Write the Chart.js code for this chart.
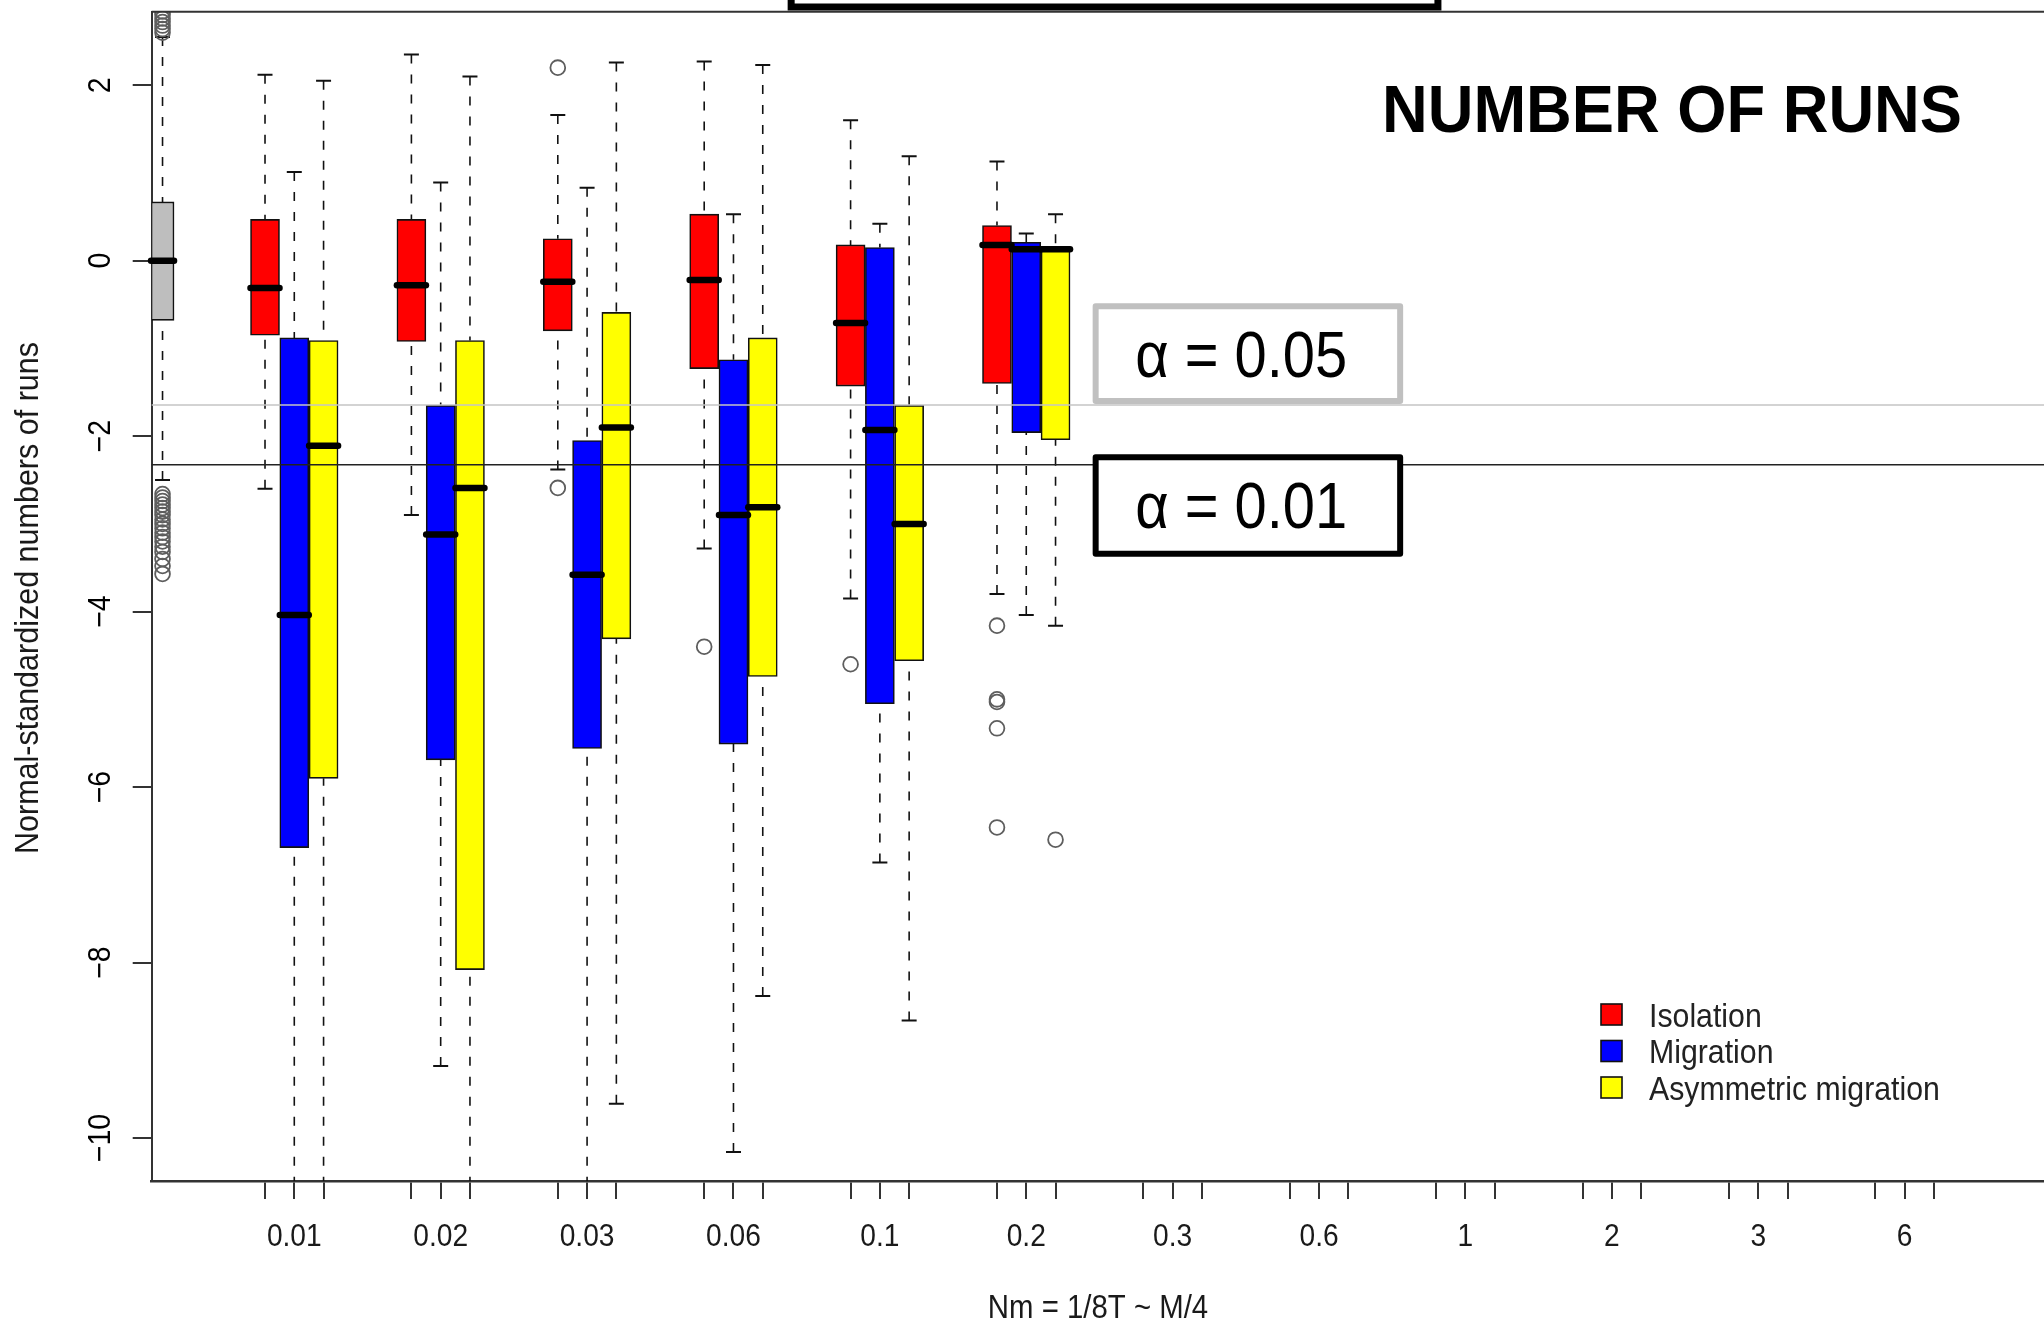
<!DOCTYPE html>
<html>
<head>
<meta charset="utf-8">
<script src="https://cdn.jsdelivr.net/npm/chart.js@4.4.1/dist/chart.umd.min.js"></script>
<style>
  html, body { margin: 0; padding: 0; background: #fff; }
  #wrap { width: 2044px; height: 1323px; }
</style>
</head>
<body>
<div id="wrap"><canvas id="myChart" width="2044" height="1323"></canvas></div>
<script>
// x groups (Nm values) and the three models
var groupLabels = ['0.01', '0.02', '0.03', '0.06', '0.1', '0.2', '0.3', '0.6', '1', '2', '3', '6'];
var seriesNames = ['Isolation', 'Migration', 'Asymmetric migration'];
var seriesColors = ['#ff0000', '#0000ff', '#ffff00'];
var yTicks = [-10, -8, -6, -4, -2, 0, 2];

// box statistics (only the first six groups have data)
var isoLo  = [-2.60, -2.90, -2.38, -3.28, -3.85, -3.80];
var isoQ1  = [-0.85, -0.92, -0.80, -1.23, -1.43, -1.40];
var isoMed = [-0.31, -0.28, -0.24, -0.22, -0.71, 0.18];
var isoQ3  = [0.47, 0.47, 0.25, 0.53, 0.18, 0.40];
var isoHi  = [2.12, 2.35, 1.66, 2.27, 1.60, 1.13];
var isoOut = [[], [], [2.20, -2.59], [-4.40], [-4.60], [-4.16, -5.00, -5.03, -5.33, -6.46]];

var migLo  = [-11.0, -9.18, -11.0, -10.16, -6.86, -4.04];
var migQ1  = [-6.69, -5.69, -5.56, -5.51, -5.05, -1.96];
var migMed = [-4.04, -3.12, -3.58, -2.90, -1.93, 0.13];
var migQ3  = [-0.88, -1.65, -2.05, -1.13, 0.15, 0.21];
var migHi  = [1.01, 0.89, 0.83, 0.53, 0.42, 0.31];
var migOut = [[], [], [], [], [], []];

var asyLo  = [-11.0, -11.0, -9.61, -8.38, -8.66, -4.16];
var asyQ1  = [-5.90, -8.08, -4.31, -4.74, -4.56, -2.04];
var asyMed = [-2.11, -2.59, -1.90, -2.81, -3.00, 0.13];
var asyQ3  = [-0.91, -0.91, -0.59, -0.88, -1.65, 0.13];
var asyHi  = [2.05, 2.10, 2.26, 2.23, 1.19, 0.53];
var asyOut = [[], [], [], [], [], [-6.60]];

// null distribution (grey box at the far left)
var refStats = { lo: -2.50, q1: -0.68, med: 0, q3: 0.67, hi: 2.55 };
var refOut = [2.60, 2.64, 2.68, 2.72, 2.76, 2.80, 2.84,
              -2.66, -2.70, -2.74, -2.78, -2.82, -2.86, -2.90, -2.95, -3.00, -3.05,
              -3.10, -3.15, -3.20, -3.26, -3.32, -3.40, -3.48, -3.57];

// critical values
var alphaLabels = ['\u03b1 = 0.05', '\u03b1 = 0.01'];
var critValues = [-1.645, -2.326];

var series = [
  { lo: isoLo, q1: isoQ1, med: isoMed, q3: isoQ3, hi: isoHi, out: isoOut },
  { lo: migLo, q1: migQ1, med: migMed, q3: migQ3, hi: migHi, out: migOut },
  { lo: asyLo, q1: asyQ1, med: asyMed, q3: asyQ3, hi: asyHi, out: asyOut }
];

var refPos = -3.5;
function pos(g, s) { return 5 * g + s; }

var FONT = "'Liberation Sans', Arial, sans-serif";
var BOX_W = 29, REF_W = 23, CAP_W = 15;

function drawText(ctx, str, x, y, o) {
  ctx.save();
  ctx.font = (o.bold ? 'bold ' : '') + o.size + 'px ' + FONT;
  ctx.fillStyle = o.color || '#1a1a1a';
  ctx.textAlign = o.align || 'center';
  ctx.textBaseline = o.base || 'alphabetic';
  ctx.translate(x, y);
  if (o.rot) ctx.rotate(o.rot);
  var sq = o.sq || 1;
  if (o.w) sq = o.w / ctx.measureText(str).width;
  ctx.scale(sq, 1);
  ctx.fillText(str, 0, 0);
  ctx.restore();
}

function whisker(ctx, xs, ys, at, lo, q1, q3, hi) {
  var xp = xs.getPixelForValue(at);
  ctx.save();
  ctx.strokeStyle = '#111';
  ctx.lineWidth = 1.6;
  ctx.setLineDash([9, 11]);
  ctx.beginPath();
  ctx.moveTo(xp, ys.getPixelForValue(hi));
  ctx.lineTo(xp, ys.getPixelForValue(q3));
  ctx.moveTo(xp, ys.getPixelForValue(lo));
  ctx.lineTo(xp, ys.getPixelForValue(q1));
  ctx.stroke();
  ctx.setLineDash([]);
  ctx.lineWidth = 2;
  ctx.beginPath();
  [hi, lo].forEach(function (v) {
    var yp = ys.getPixelForValue(v);
    ctx.moveTo(xp - CAP_W / 2, yp);
    ctx.lineTo(xp + CAP_W / 2, yp);
  });
  ctx.stroke();
  ctx.restore();
}

function median(ctx, xs, ys, at, v, w) {
  var xp = xs.getPixelForValue(at), yp = ys.getPixelForValue(v);
  ctx.save();
  ctx.strokeStyle = '#000';
  ctx.lineWidth = 6.5;
  ctx.lineCap = 'round';
  ctx.beginPath();
  ctx.moveTo(xp - w / 2, yp);
  ctx.lineTo(xp + w / 2, yp);
  ctx.stroke();
  ctx.restore();
}

var boxPlugin = {
  id: 'boxParts',
  beforeDatasetsDraw: function (chart) {
    var ctx = chart.ctx, xs = chart.scales.x, ys = chart.scales.y, a = chart.chartArea;
    ctx.save();
    ctx.beginPath();
    ctx.rect(a.left, a.top, a.right - a.left, a.bottom - a.top);
    ctx.clip();
    whisker(ctx, xs, ys, refPos, refStats.lo, refStats.q1, refStats.q3, refStats.hi);
    series.forEach(function (st, s) {
      st.q1.forEach(function (q1, g) {
        whisker(ctx, xs, ys, pos(g, s), st.lo[g], q1, st.q3[g], st.hi[g]);
      });
    });
    ctx.restore();
  },
  afterDatasetsDraw: function (chart) {
    var ctx = chart.ctx, xs = chart.scales.x, ys = chart.scales.y, a = chart.chartArea;
    median(ctx, xs, ys, refPos, refStats.med, REF_W);
    series.forEach(function (st, s) {
      st.med.forEach(function (m, g) { median(ctx, xs, ys, pos(g, s), m, BOX_W); });
    });

    // critical value lines
    ctx.save();
    ['#c4c4c4', '#222'].forEach(function (c, i) {
      var yp = ys.getPixelForValue(critValues[i]);
      ctx.strokeStyle = c;
      ctx.lineWidth = 1.6;
      ctx.beginPath();
      ctx.moveTo(a.left, yp);
      ctx.lineTo(a.right, yp);
      ctx.stroke();
    });
    ctx.restore();

    // top frame line
    ctx.save();
    ctx.strokeStyle = '#333';
    ctx.lineWidth = 2;
    ctx.beginPath();
    ctx.moveTo(a.left, a.top);
    ctx.lineTo(a.right, a.top);
    ctx.stroke();
    ctx.restore();
  },
  afterDraw: function (chart) {
    var ctx = chart.ctx, xs = chart.scales.x, ys = chart.scales.y, a = chart.chartArea;

    // alpha boxes
    var bx0 = xs.getPixelForValue(28.37), bx1 = xs.getPixelForValue(38.77);
    var boxes = [
      { top: -0.52, bot: -1.60, color: '#c0c0c0' },
      { top: -2.24, bot: -3.34, color: '#000' }
    ];
    boxes.forEach(function (b, i) {
      var y0 = ys.getPixelForValue(b.top), y1 = ys.getPixelForValue(b.bot);
      ctx.save();
      ctx.fillStyle = '#fff';
      ctx.fillRect(bx0, y0, bx1 - bx0, y1 - y0);
      ctx.strokeStyle = b.color;
      ctx.lineWidth = 6;
      ctx.lineJoin = 'round';
      ctx.strokeRect(bx0, y0, bx1 - bx0, y1 - y0);
      ctx.restore();
      drawText(ctx, alphaLabels[i], xs.getPixelForValue(29.72), (y0 + y1) / 2 + 23,
        { size: 64, align: 'left', color: '#000', w: 212 });
    });

    // cut-off frame at the very top
    ctx.save();
    var tx0 = xs.getPixelForValue(17.97), tx1 = xs.getPixelForValue(40.06);
    ctx.fillStyle = '#fff';
    ctx.fillRect(tx0, -40, tx1 - tx0, 47);
    ctx.strokeStyle = '#000';
    ctx.lineWidth = 7;
    ctx.strokeRect(tx0, -40, tx1 - tx0, 47);
    ctx.restore();

    // title
    drawText(ctx, 'NUMBER OF RUNS', 1382, 132, { size: 66, bold: true, align: 'left', color: '#000', w: 580 });

    // legend
    var lx = xs.getPixelForValue(45.63);
    var ly = [1014.5, 1051, 1087.5];
    seriesNames.forEach(function (n, i) {
      ctx.save();
      ctx.fillStyle = seriesColors[i];
      ctx.fillRect(lx, ly[i] - 10.5, 21, 21);
      ctx.strokeStyle = '#111';
      ctx.lineWidth = 1.6;
      ctx.strokeRect(lx, ly[i] - 10.5, 21, 21);
      ctx.restore();
      drawText(ctx, n, lx + 48, ly[i] + 12, { size: 34, sq: 0.89, align: 'left', color: '#222' });
    });

    // y tick labels
    yTicks.forEach(function (v) {
      var lbl = v < 0 ? '\u2212' + Math.abs(v) : String(v);
      drawText(ctx, lbl, 110, ys.getPixelForValue(v), { size: 32, sq: 0.89, rot: -Math.PI / 2, color: '#000' });
    });

    // x tick labels at the middle tick of each group
    groupLabels.forEach(function (l, g) {
      drawText(ctx, l, xs.getPixelForValue(pos(g, 1)), 1246, { size: 32, sq: 0.88, color: '#1a1a1a' });
    });

    // axis titles
    drawText(ctx, 'Nm = 1/8T ~ M/4', 1098, 1318, { size: 33, sq: 0.89, color: '#1a1a1a' });
    drawText(ctx, 'Normal-standardized numbers of runs', 38, 598, { size: 34, rot: -Math.PI / 2, color: '#1a1a1a', w: 512 });
  }
};

var datasets = [];

// outliers
var outPts = refOut.map(function (v) { return { x: refPos, y: v }; });
series.forEach(function (st, s) {
  st.out.forEach(function (list, g) {
    list.forEach(function (v) { outPts.push({ x: pos(g, s), y: v }); });
  });
});
datasets.push({
  type: 'scatter',
  label: 'outliers',
  data: outPts,
  pointStyle: 'circle',
  pointRadius: 7.4,
  pointBorderWidth: 1.8,
  pointBorderColor: '#5e5e5e',
  pointBackgroundColor: 'rgba(0,0,0,0)'
});

series.forEach(function (st, s) {
  datasets.push({
    type: 'bar',
    label: seriesNames[s],
    data: st.q1.map(function (q1, g) { return { x: pos(g, s), y: [q1, st.q3[g]] }; }),
    backgroundColor: seriesColors[s],
    borderColor: '#111',
    borderWidth: 1.6,
    borderSkipped: false,
    barThickness: BOX_W,
    grouped: false
  });
});

datasets.push({
  type: 'bar',
  label: 'null',
  data: [{ x: refPos, y: [refStats.q1, refStats.q3] }],
  backgroundColor: '#bebebe',
  borderColor: '#111',
  borderWidth: 1.6,
  borderSkipped: false,
  barThickness: REF_W,
  grouped: false
});

var ctx = document.getElementById('myChart');
var chart = new Chart(ctx, {
  type: 'bar',
  data: { datasets: datasets },
  options: {
    responsive: false,
    animation: false,
    events: [],
    layout: { autoPadding: false, padding: { top: 11.7, left: 0, right: 0, bottom: 0 } },
    plugins: { legend: { display: false }, tooltip: { enabled: false }, title: { display: false } },
    scales: {
      x: {
        type: 'linear',
        min: -3.87,
        max: 60.76,
        offset: false,
        grid: { offset: false, drawOnChartArea: false, drawTicks: true, tickLength: 18, color: '#333', lineWidth: 2 },
        border: { display: true, color: '#333', width: 2.5 },
        ticks: { display: false },
        afterBuildTicks: function (scale) {
          var t = [];
          groupLabels.forEach(function (l, g) {
            [0, 1, 2].forEach(function (s) { t.push({ value: pos(g, s) }); });
          });
          scale.ticks = t;
        },
        afterFit: function (scale) { scale.height = 142; scale.paddingLeft = 0; scale.paddingRight = 0; }
      },
      y: {
        type: 'linear',
        min: -10.49,
        max: 2.838,
        beginAtZero: false,
        grid: { drawOnChartArea: false, drawTicks: true, tickLength: 19, color: '#333', lineWidth: 2 },
        border: { display: true, color: '#333', width: 2 },
        ticks: { display: false },
        afterBuildTicks: function (scale) {
          scale.ticks = yTicks.map(function (v) { return { value: v }; });
        },
        afterFit: function (scale) { scale.width = 151.7; scale.paddingTop = 0; scale.paddingBottom = 0; }
      }
    }
  },
  plugins: [boxPlugin]
});
</script>
</body>
</html>
